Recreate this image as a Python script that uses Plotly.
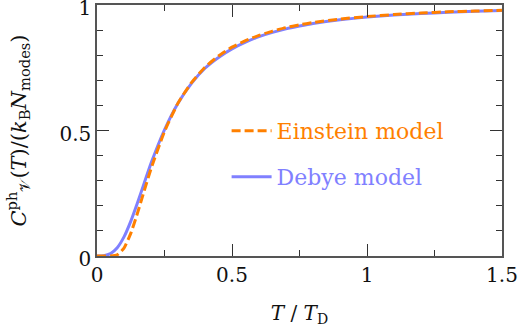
import plotly.graph_objects as go

# T / T_D sample points
t_vals = [0.0, 0.025, 0.05, 0.075, 0.1, 0.125, 0.15, 0.175, 0.2, 0.25, 0.3, 0.35,
          0.4, 0.45, 0.5, 0.55, 0.6, 0.65, 0.7, 0.75, 0.8, 0.9, 1.0, 1.1, 1.2, 1.3, 1.4, 1.5]
# Einstein model heat capacity (normalised)
einstein = [0.0, 0.0, 0.0001, 0.0045, 0.031, 0.090, 0.171, 0.260, 0.347, 0.496, 0.609,
            0.691, 0.752, 0.797, 0.832, 0.858, 0.879, 0.896, 0.910, 0.921, 0.930, 0.944,
            0.954, 0.962, 0.968, 0.973, 0.976, 0.979]
# Debye model heat capacity (normalised)
debye = [0.0, 0.0012, 0.0097, 0.033, 0.076, 0.138, 0.212, 0.291, 0.369, 0.503, 0.609,
         0.688, 0.748, 0.791, 0.825, 0.852, 0.874, 0.891, 0.905, 0.916, 0.926, 0.941,
         0.952, 0.960, 0.966, 0.971, 0.975, 0.978]

x_ticks = [0, 0.5, 1, 1.5]
x_ticktext = ["0", "0.5", "1", "1.5"]
y_ticks = [0, 0.5, 1]
y_ticktext = ["0", "0.5", "1"]

ORANGE = "#ff8000"
BLUE = "#8080ff"
FONT = "DejaVu Serif"

fig = go.Figure()
fig.add_trace(go.Scatter(x=t_vals, y=debye, mode="lines", name="Debye model",
                         line=dict(color=BLUE, width=3, shape="spline", smoothing=0.5),
                         legend="legend2", showlegend=True))
fig.add_trace(go.Scatter(x=t_vals, y=einstein, mode="lines", name="Einstein model",
                         line=dict(color=ORANGE, width=3, dash="9px,4px", shape="spline", smoothing=0.5),
                         legend="legend3", showlegend=True))

axis_common = dict(
    showline=True, linecolor="#555555", linewidth=1.5, mirror="allticks",
    ticks="inside", ticklen=12, tickwidth=1, tickcolor="#333333",
    showgrid=False, zeroline=False, automargin=False, ticklabeloverflow="allow",
    tickfont=dict(family=FONT, size=20, color="#111111"),
)

fig.update_layout(
    width=518, height=333,
    margin=dict(l=97, r=16, t=5, b=77),
    paper_bgcolor="white", plot_bgcolor="white",
    font=dict(family=FONT, color="#111111"),
    showlegend=True,
    xaxis=dict(range=[0, 1.5], tickvals=x_ticks, ticktext=x_ticktext,
               minor=dict(dtick=0.25, ticks="inside", ticklen=6, tickcolor="#333333", showgrid=False),
               title=dict(text="<i>T</i> / <i>T</i><sub>D</sub>", font=dict(family=FONT, size=20), standoff=20),
               **axis_common),
    yaxis=dict(range=[0, 1], tickvals=y_ticks, ticktext=y_ticktext, ticklabelshift=3,
               minor=dict(dtick=0.1, ticks="inside", ticklen=6, tickcolor="#333333", showgrid=False),
               title=dict(text="<i>C</i><sup>ph</sup><sub>𝒱</sub>(<i>T</i>)/(<i>k</i><sub>B</sub><i>N</i><sub>modes</sub>)",
                          font=dict(family=FONT, size=21), standoff=27),
               **axis_common),
    legend2=dict(x=0.32, y=0.315, xanchor="left", yanchor="middle", bgcolor="rgba(0,0,0,0)",
                 font=dict(family=FONT, size=22, color=BLUE), itemwidth=40, visible=True),
    legend3=dict(x=0.32, y=0.498, xanchor="left", yanchor="middle", bgcolor="rgba(0,0,0,0)",
                 font=dict(family=FONT, size=22, color=ORANGE), itemwidth=40, visible=True),
)

fig.write_html("out.html", config={"displayModeBar": False},
               post_script="document.body.style.margin='0';")
